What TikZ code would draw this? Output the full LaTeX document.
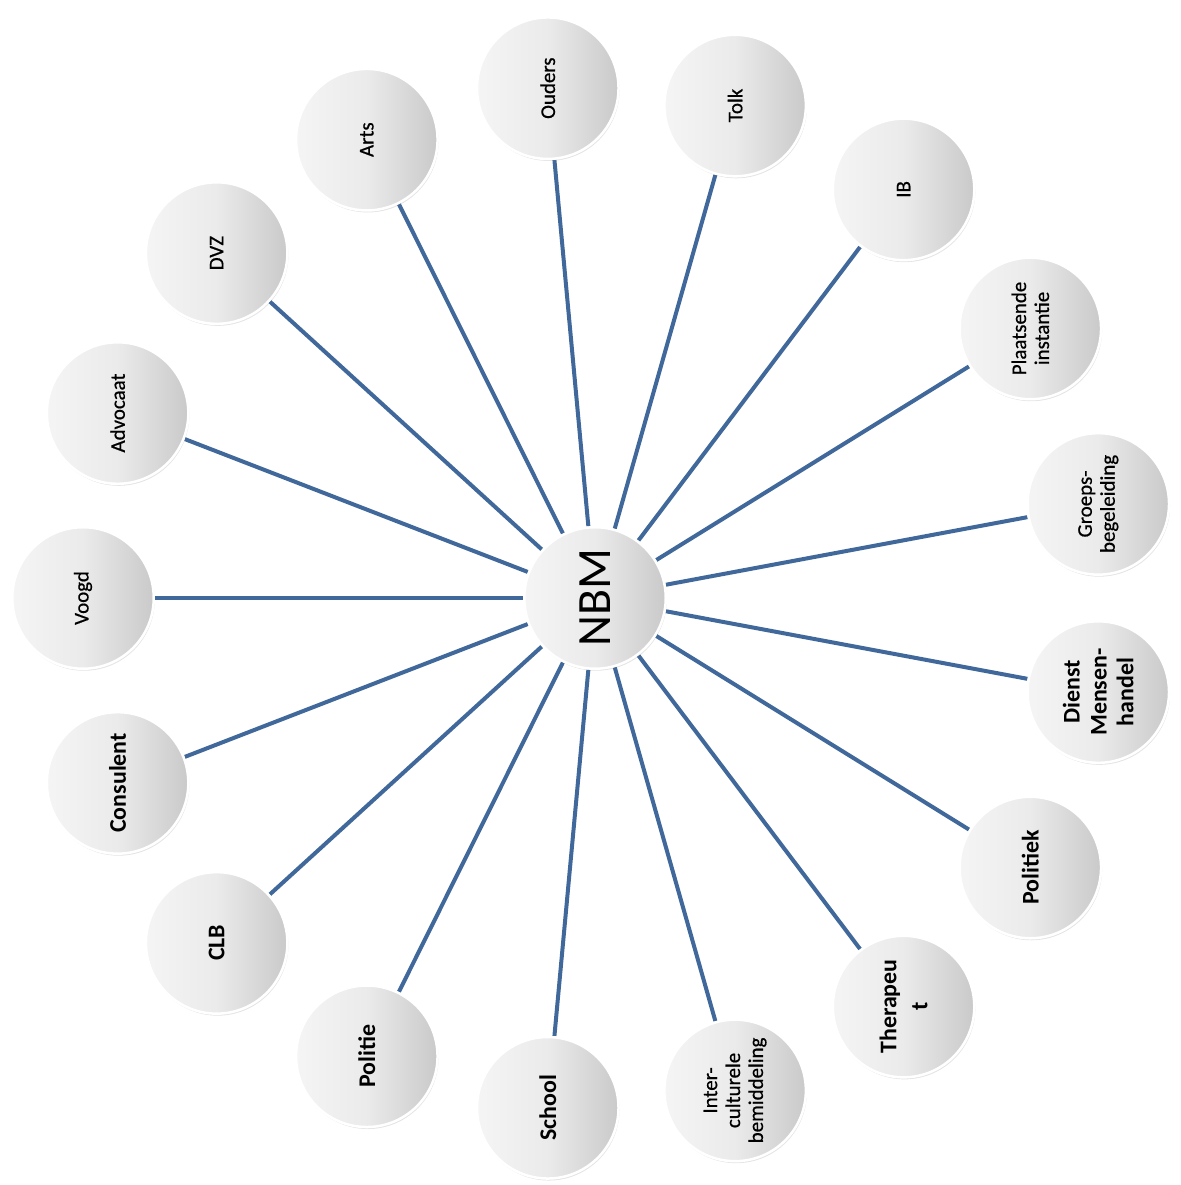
\documentclass[tikz,border=0pt]{standalone}
\usepackage{fontspec}
\setmainfont{Carlito}
\newfontfamily\semibfont[FakeBold=0.6]{Carlito}
\usetikzlibrary{shadows,calc,backgrounds}
\definecolor{linkblue}{RGB}{64,104,154}
\begin{document}
\begin{tikzpicture}[
  bubble/.style={circle, minimum size=141.5bp, inner sep=0pt, draw=white, line width=2.5bp,
    left color=white!96!black, right color=black!21, middle color=black!8, rotate=90, align=center, text=black,
    drop shadow={opacity=0.22, shadow xshift=1bp, shadow yshift=-2bp}},
  smalltxt/.style={font=\semibfont\fontsize{21}{23}\selectfont},
  bigtxt/.style={font=\bfseries\fontsize{24}{27}\selectfont},
  link/.style={draw=linkblue, line width=4bp}]
\useasboundingbox (0,0) rectangle (1181bp,1185bp);
\coordinate (c) at (595bp,587bp);
\def\st{21.1765}
\node[bubble, font=\fontsize{48}{50}\selectfont] (nbm) at (c) {NBM};
\node[bubble, smalltxt] (n0)  at ($(c)+(180-0*\st:512bp)$) {Voogd};
\node[bubble, smalltxt] (n1)  at ($(c)+(180-1*\st:512bp)$) {Advocaat};
\node[bubble, smalltxt] (n2)  at ($(c)+(180-2*\st:512bp)$) {DVZ};
\node[bubble, smalltxt] (n3)  at ($(c)+(180-3*\st:512bp)$) {Arts};
\node[bubble, smalltxt] (n4)  at ($(c)+(180-4*\st:512bp)$) {Ouders};
\node[bubble, smalltxt] (n5)  at ($(c)+(180-5*\st:512bp)$) {Tolk};
\node[bubble, smalltxt] (n6)  at ($(c)+(180-6*\st:512bp)$) {IB};
\node[bubble, smalltxt] (n7)  at ($(c)+(180-7*\st:512bp)$) {Plaatsende\\instantie};
\node[bubble, smalltxt] (n8)  at ($(c)+(180-8*\st:512bp)$) {Groeps-\\begeleiding};
\node[bubble, bigtxt]   (n9)  at ($(c)+(180-9*\st:512bp)$) {Dienst\\Mensen-\\handel};
\node[bubble, bigtxt]   (n10) at ($(c)+(180-10*\st:512bp)$) {Politiek};
\node[bubble, bigtxt, font=\bfseries\fontsize{24}{31}\selectfont] (n11) at ($(c)+(180-11*\st:512bp)$) {Therapeu\\t};
\node[bubble, smalltxt] (n12) at ($(c)+(180-12*\st:512bp)$) {Inter-\\culturele\\bemiddeling};
\node[bubble, bigtxt]   (n13) at ($(c)+(180-13*\st:512bp)$) {School};
\node[bubble, bigtxt]   (n14) at ($(c)+(180-14*\st:512bp)$) {Politie};
\node[bubble, bigtxt]   (n15) at ($(c)+(180-15*\st:512bp)$) {CLB};
\node[bubble, bigtxt]   (n16) at ($(c)+(180-16*\st:512bp)$) {Consulent};
\begin{scope}[on background layer]
\foreach \i in {0,...,16} {\draw[link] (nbm) -- (n\i);}
\end{scope}
\end{tikzpicture}
\end{document}
